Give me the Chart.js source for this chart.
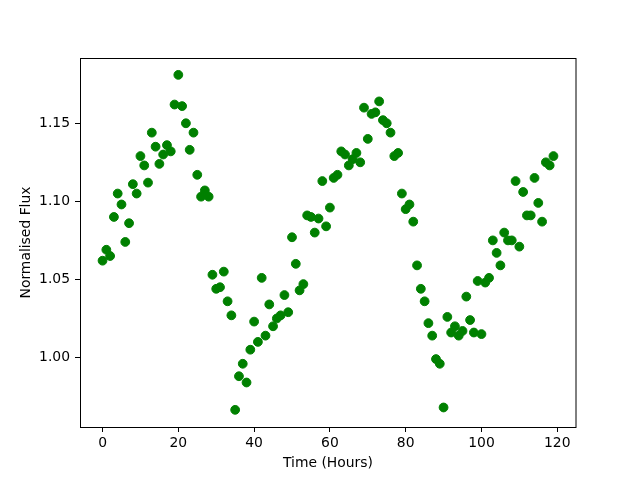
<!DOCTYPE html>
<html>
<head>
<meta charset="utf-8">
<script src="https://cdn.jsdelivr.net/npm/chart.js@4"></script>
<style>
html,body{margin:0;padding:0;background:#fff;}
#wrap{width:640px;height:480px;position:relative;}
</style>
</head>
<body>
<div id="wrap"><canvas id="c" width="640" height="480"></canvas></div>
<script>
const hours = [0,1,2,3,4,5,6,7,8,9,10,11,12,13,14,15,16,17,18,19,
20,21,22,23,24,25,26,27,28,29,30,31,32,33,34,35,36,37,38,39,
40,41,42,43,44,45,46,47,48,49,50,51,52,53,54,55,56,57,58,59,
60,61,62,63,64,65,66,67,68,69,70,71,72,73,74,75,76,77,78,79,
80,81,82,83,84,85,86,87,88,89,90,91,92,93,94,95,96,97,98,99,
100,101,102,103,104,105,106,107,108,109,110,111,112,113,114,115,116,117,118,119];

const flux = [1.062,1.069,1.065,1.090,1.105,1.098,1.074,1.086,1.111,1.105,
1.129,1.123,1.112,1.144,1.135,1.124,1.130,1.136,1.132,1.162,
1.181,1.161,1.150,1.133,1.144,1.117,1.103,1.107,1.103,1.053,
1.044,1.045,1.055,1.036,1.027,0.9665,0.988,0.996,0.984,1.005,
1.023,1.010,1.051,1.014,1.034,1.020,1.025,1.027,1.040,1.029,
1.077,1.060,1.043,1.047,1.091,1.090,1.080,1.089,1.113,1.084,
1.096,1.115,1.117,1.132,1.130,1.123,1.127,1.131,1.125,1.160,
1.140,1.156,1.157,1.164,1.152,1.150,1.144,1.129,1.131,1.105,
1.095,1.098,1.087,1.059,1.044,1.036,1.022,1.014,0.999,0.996,
0.968,1.026,1.016,1.020,1.014,1.017,1.039,1.024,1.016,1.049,
1.015,1.048,1.051,1.075,1.067,1.059,1.080,1.075,1.075,1.113,
1.071,1.106,1.091,1.091,1.115,1.099,1.087,1.125,1.123,1.129];

const xTicks = [0,20,40,60,80,100,120];
const yTicks = [1.00,1.05,1.10,1.15];
const yTickLabels = ["1.00","1.05","1.10","1.15"];
const xTitle = "Time (Hours)";
const yTitle = "Normalised Flux";

const points = hours.map((h,i)=>({x:h,y:flux[i]}));

const frame = {
  id:'frame',
  afterDraw(chart){
    const a = chart.chartArea, ctx = chart.ctx;
    ctx.save();
    ctx.strokeStyle = '#000';
    ctx.lineWidth = 1;
    ctx.strokeRect(Math.round(a.left)+0.5, Math.round(a.top)+0.5, Math.round(a.right-a.left)-0.5, Math.round(a.bottom-a.top));
    ctx.restore();
  }
};

const FONT = {family:'"DejaVu Sans"', size:13.9};

new Chart(document.getElementById('c'), {
  type:'scatter',
  data:{datasets:[{
    data:points,
    backgroundColor:'#008000',
    borderColor:'#008000',
    pointRadius:4.4,
    pointBorderWidth:1,
    pointHoverRadius:4.4
  }]},
  options:{
    responsive:false,
    animation:false,
    events:[],
    layout:{padding:{left:0,right:64,top:58,bottom:0}},
    plugins:{legend:{display:false},tooltip:{enabled:false}},
    scales:{
      x:{
        type:'linear',
        min:-5.95, max:124.95,
        afterBuildTicks(s){ s.ticks = xTicks.map(v=>({value:v})); },
        afterFit(s){ s.height = 53; },
        ticks:{color:'#000', font:FONT, padding:3, maxRotation:0, autoSkip:false,
               callback:(v)=>String(v)},
        grid:{display:true, drawOnChartArea:false, drawTicks:true, tickLength:5, color:'#000', tickWidth:1},
        border:{display:false},
        title:{display:true, text:xTitle, color:'#000', font:FONT, padding:{top:0,bottom:8.7}}
      },
      y:{
        type:'linear',
        min:0.9555, max:1.1918,
        afterBuildTicks(s){ s.ticks = yTicks.map(v=>({value:v})); },
        afterFit(s){ s.width = 80; },
        ticks:{color:'#000', font:FONT, padding:5, autoSkip:false,
               callback:(v)=>{ const i = yTicks.indexOf(v); return i>=0 ? yTickLabels[i] : ''; }},
        grid:{display:true, drawOnChartArea:false, drawTicks:true, tickLength:5, color:'#000', tickWidth:1},
        border:{display:false},
        title:{display:true, text:yTitle, color:'#000', font:FONT, padding:{top:17.7,bottom:0}}
      }
    }
  },
  plugins:[frame]
});
</script>
</body>
</html>
